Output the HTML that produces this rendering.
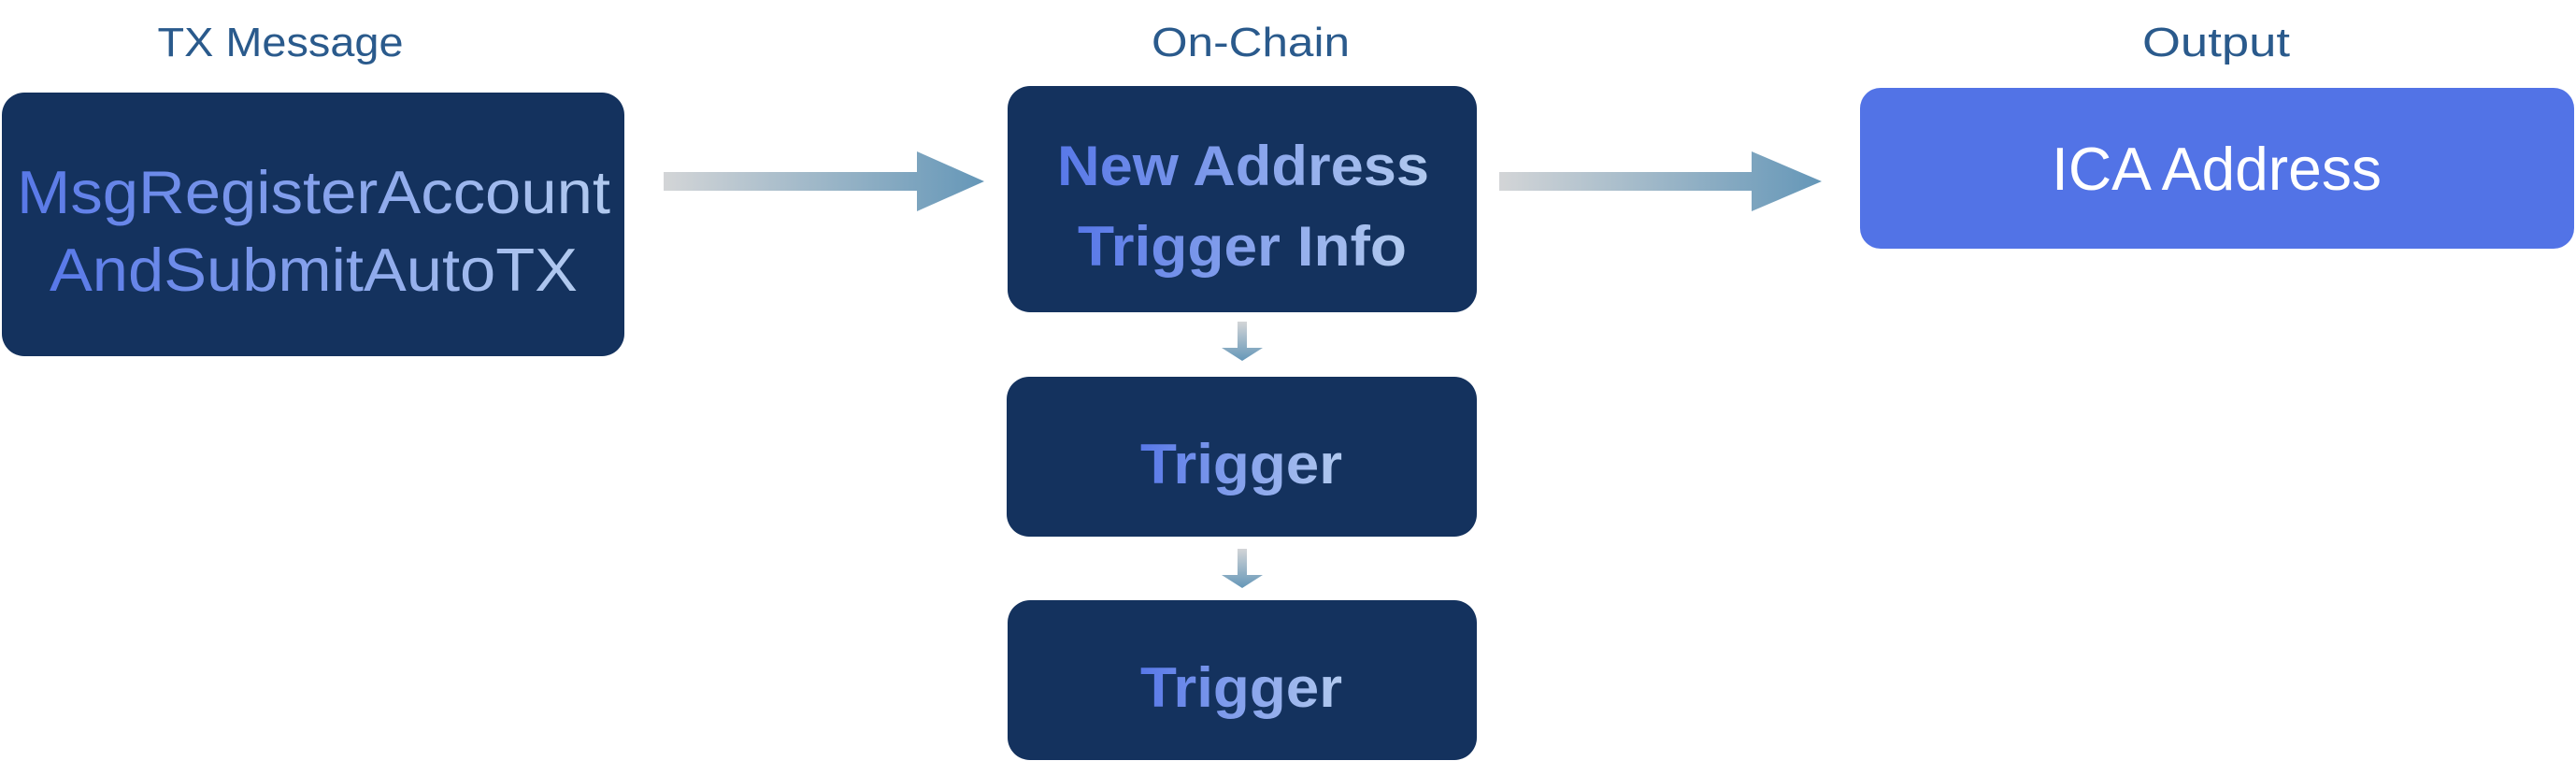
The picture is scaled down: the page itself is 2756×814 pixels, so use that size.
<!DOCTYPE html>
<html><head><meta charset="utf-8"><style>
html,body{margin:0;padding:0;background:#fff;width:2756px;height:814px;overflow:hidden}
svg{display:block}
</style></head><body>
<svg width="2756" height="814" viewBox="0 0 2756 814" xmlns="http://www.w3.org/2000/svg">
<defs>
<linearGradient id="tg" x1="0" y1="0" x2="1" y2="0">
<stop offset="0" stop-color="#5878e8"/><stop offset="1" stop-color="#b2caef"/></linearGradient>
<linearGradient id="ah" x1="0" y1="0" x2="1" y2="0">
<stop offset="0" stop-color="#d3d5d7"/><stop offset="1" stop-color="#6597b8"/></linearGradient>
<linearGradient id="av" x1="0" y1="0" x2="0" y2="1">
<stop offset="0" stop-color="#d3d5d7"/><stop offset="1" stop-color="#6597b8"/></linearGradient>
</defs>
<g font-family="Liberation Sans, sans-serif" fill="#2a5a8c" font-size="44" text-anchor="middle">
<text x="300" y="60" textLength="263" lengthAdjust="spacingAndGlyphs">TX Message</text>
<text x="1338" y="60" textLength="212" lengthAdjust="spacingAndGlyphs">On-Chain</text>
<text x="2371" y="60" textLength="158" lengthAdjust="spacingAndGlyphs">Output</text>
</g>
<rect x="2" y="99" width="666" height="282" rx="24" fill="#14325e"/>
<rect x="1078" y="92" width="502" height="242" rx="24" fill="#14325e"/>
<rect x="1077" y="403" width="503" height="171" rx="24" fill="#14325e"/>
<rect x="1078" y="642" width="502" height="171" rx="24" fill="#14325e"/>
<rect x="1990" y="94" width="764" height="172" rx="22" fill="#5273e6"/>
<polygon points="710,184 981,184 981,162 1053,194 981,226 981,204 710,204" fill="url(#ah)"/>
<polygon points="1604,184 1874,184 1874,162 1949,194 1874,226 1874,204 1604,204" fill="url(#ah)"/>
<polygon points="1324,344 1334,344 1334,372 1351,372 1329,386 1307,372 1324,372" fill="url(#av)"/>
<polygon points="1324,587 1334,587 1334,615 1351,615 1329,629 1307,615 1324,615" fill="url(#av)"/>
<g font-family="Liberation Sans, sans-serif" font-size="65" fill="url(#tg)">
<text x="18" y="228" textLength="635" lengthAdjust="spacingAndGlyphs">MsgRegisterAccount</text>
<text x="53" y="311" textLength="565" lengthAdjust="spacingAndGlyphs">AndSubmitAutoTX</text>
</g>
<g font-family="Liberation Sans, sans-serif" font-size="60" font-weight="bold" fill="url(#tg)">
<text x="1131" y="198" textLength="398" lengthAdjust="spacingAndGlyphs">New Address</text>
<text x="1153" y="284" textLength="352" lengthAdjust="spacingAndGlyphs">Trigger Info</text>
<text x="1220" y="517" textLength="216" lengthAdjust="spacingAndGlyphs">Trigger</text>
<text x="1220" y="756" textLength="216" lengthAdjust="spacingAndGlyphs">Trigger</text>
</g>
<text x="2195" y="203" font-family="Liberation Sans, sans-serif" font-size="65" fill="#fff" textLength="353" lengthAdjust="spacingAndGlyphs">ICA Address</text>
</svg>
</body></html>
